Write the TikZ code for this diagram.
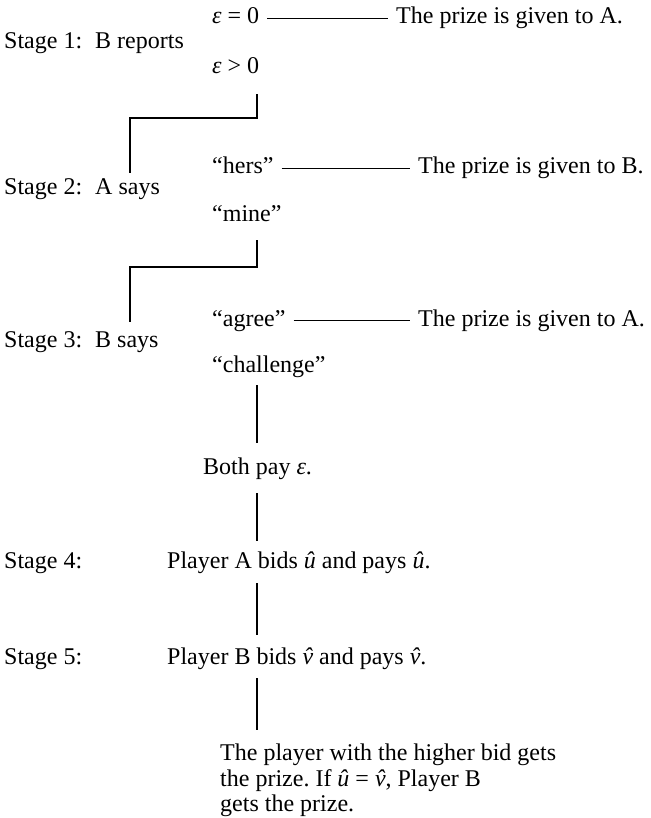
\documentclass[tikz,border=0pt]{standalone}
\usepackage{fontspec}
\setmainfont{Liberation Serif}
\usepackage{tikz}
\usetikzlibrary{calc}
\frenchspacing

\newcommand{\vhat}{{\itshape\accent"02C6 v}}

\tikzset{
  lbl/.style={inner sep=0pt, text height=16pt, text depth=5pt, anchor=west},
  wire/.style={line width=1.1pt},
  gap/.style={shorten <=8pt, shorten >=8pt},
}

\begin{document}
\begin{tikzpicture}[x=1pt, y=-1pt, font=\fontsize{24}{25.5}\selectfont]
    \useasboundingbox (0,0) rectangle (650,818);
    \coordinate (trunk) at (257,0);

    % Stage 1
    \node[lbl] (stageI) at (4,43.5) {Stage 1:};
    \node[lbl] (repB) at (95,43.5) {B reports};
    \node[lbl] (epsZero) at (212,18.5) {\textit{ε} = 0};
    \node[lbl] (epsPos) at (212,68.5) {\textit{ε} > 0};
    \node[lbl] (prizeA) at (396,18.5) {The prize is given to A.};
    \draw[wire,gap] (epsZero) -- (prizeA);

    % Stage 2
    \node[lbl] (stageII) at (4,189.5) {Stage 2:};
    \node[lbl] (sayA) at (95,189.5) {A says};
    \node[lbl] (hers) at (212,168.5) {``hers''};
    \node[lbl] (mine) at (212,216.5) {``mine''};
    \node[lbl] (prizeB) at (418,168.5) {The prize is given to B.};
    \draw[wire,gap] (hers) -- (prizeB);
    \coordinate (turnI) at (130,118);
    \draw[wire, shorten <=15pt, shorten >=6pt] (epsPos.south -| trunk) |- (turnI) -- (sayA.north -| turnI);

    % Stage 3
    \node[lbl] (stageIII) at (4,341.5) {Stage 3:};
    \node[lbl] (sayB) at (95,341.5) {B says};
    \node[lbl] (agree) at (212,320.5) {``agree''};
    \node[lbl] (chall) at (212,366.5) {``challenge''};
    \node[lbl] (prizeAA) at (418,320.5) {The prize is given to A.};
    \draw[wire,gap] (agree) -- (prizeAA);
    \coordinate (turnII) at (130,267);
    \draw[wire, shorten <=13pt, shorten >=9pt] (mine.south -| trunk) |- (turnII) -- (sayB.north -| turnII);

    % Challenge
    \node[lbl] (both) at (203,468.5) {Both pay \textit{ε}.};
    \draw[wire, shorten <=8pt, shorten >=15pt] (chall.south -| trunk) -- (both.north -| trunk);

    % Stage 4 and 5
    \node[lbl] (stageIV) at (4,562.5) {Stage 4:};
    \node[lbl] (bidA) at (167,562.5) {Player A bids \textit{û} and pays \textit{û}.};
    \node[lbl] (stageV) at (4,658.5) {Stage 5:};
    \node[lbl] (bidB) at (167,658.5) {Player B bids \vhat{} and pays \vhat.};
    \draw[wire, shorten <=14pt, shorten >=11pt] (both.south -| trunk) -- (bidA.north -| trunk);
    \draw[wire, shorten <=10pt, shorten >=13pt] (bidA.south -| trunk) -- (bidB.north -| trunk);

    % Outcome
    \node[inner sep=0pt, anchor=north west, align=left] (rule) at (220,744)
        {The player with the higher bid gets\\the prize. If \textit{û} = \vhat, Player B\\gets the prize.};
    \draw[wire, shorten <=9pt, shorten >=14pt] (bidB.south -| trunk) -- (rule.north -| trunk);
\end{tikzpicture}
\end{document}
